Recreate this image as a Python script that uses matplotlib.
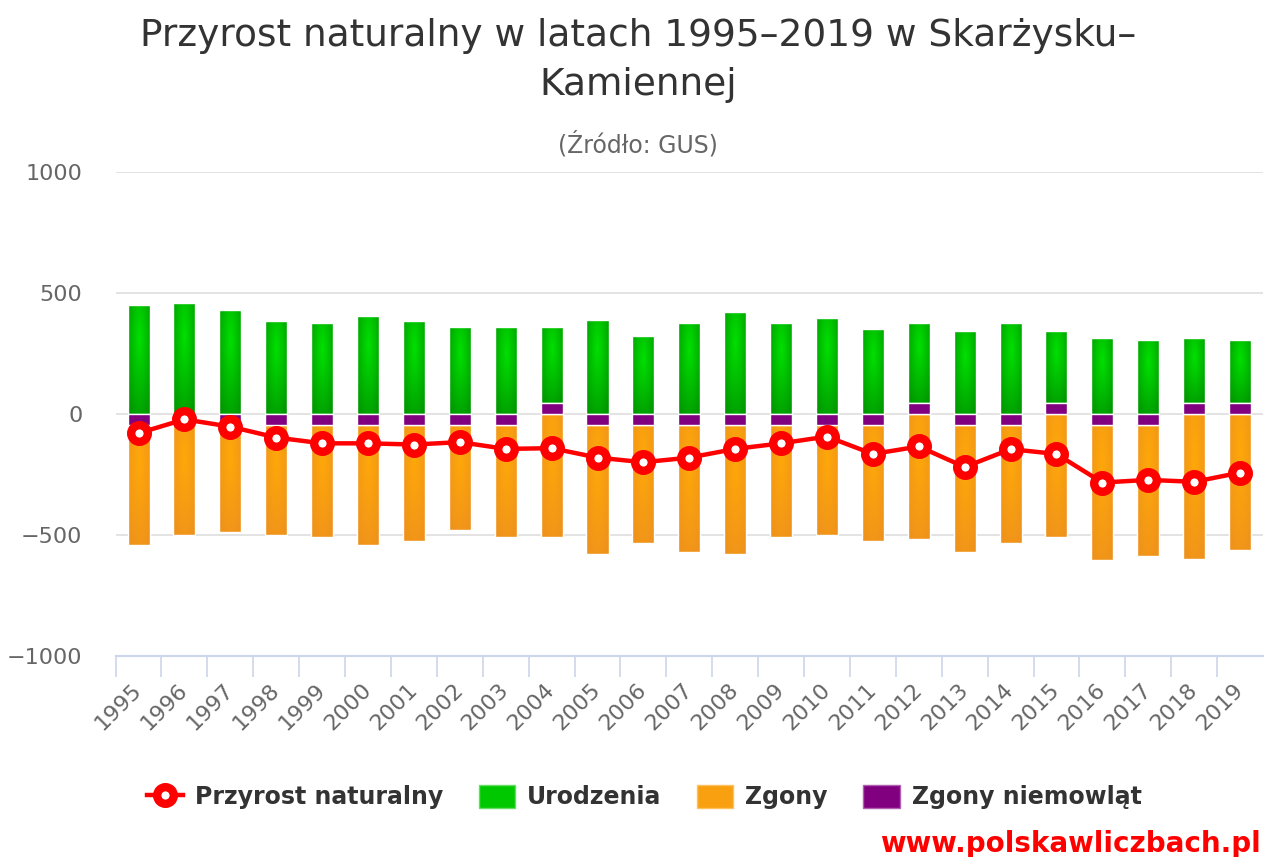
import numpy as np
import matplotlib
matplotlib.use('Agg')
import matplotlib.pyplot as plt
import matplotlib.colors as mcolors
from matplotlib.lines import Line2D
from matplotlib.patches import Patch

# Dane
years = [str(y) for y in range(1995, 2020)]
urodzenia = [450, 460, 433, 387, 379, 406, 387, 361, 361, 316, 389, 325, 379,
             424, 379, 397, 351, 334, 343, 379, 298, 316, 307, 271, 262]
zgony = [-496, -452, -443, -452, -461, -496, -478, -433, -461, -506, -532,
         -487, -524, -532, -461, -452, -478, -515, -524, -488, -506, -559,
         -542, -596, -559]
zgony_niem = [-45, -45, -45, -45, -45, -45, -45, -45, -45, 45, -45, -45, -45,
              -45, -45, -45, -45, 45, -45, -45, 45, -45, -45, 45, 45]
przyrost = [-78, -21, -51, -96, -120, -120, -125, -115, -143, -140, -179,
            -198, -179, -143, -120, -92, -164, -133, -218, -144, -164, -282,
            -271, -279, -241]
y_ticks = [-1000, -500, 0, 500, 1000]


# Radial gradient fill clipped to each bar
def gradient_fill(ax, patches, light, dark):
    light = np.array(mcolors.to_rgb(light))
    dark = np.array(mcolors.to_rgb(dark))
    uu, vv = np.meshgrid(np.linspace(0, 1, 24), np.linspace(0, 1, 80))
    r = np.sqrt(((uu - 0.5) / 0.7) ** 2 + ((vv - 0.3) / 0.85) ** 2)
    t = np.clip(r, 0, 1)[..., None]
    img = light * (1 - t) + dark * t
    for p in patches:
        x0 = p.get_x()
        x1 = x0 + p.get_width()
        y0 = p.get_y()
        y1 = y0 + p.get_height()
        im = ax.imshow(img, extent=(x0, x1, min(y0, y1), max(y0, y1)),
                       origin='upper', aspect='auto', zorder=2.9,
                       interpolation='bilinear')
        im.set_clip_path(p)


fig = plt.figure(figsize=(12.64, 8.57), dpi=100)
ax = fig.add_axes([115.6 / 1264, 1 - 656.3 / 857, 1147.4 / 1264, 484 / 857])

x = np.arange(len(years))
niem = np.array(zgony_niem)
bottom_pos = np.where(niem > 0, niem, 0)
bottom_neg = np.where(niem < 0, niem, 0)
width = 0.48

bars_u = ax.bar(x, urodzenia, width, bottom=bottom_pos, facecolor='none',
                edgecolor='white', linewidth=1, zorder=3)
bars_z = ax.bar(x, zgony, width, bottom=bottom_neg, facecolor='none',
                edgecolor='white', linewidth=1, zorder=3)
ax.bar(x, zgony_niem, width, color='#800080', edgecolor='white',
       linewidth=1, zorder=3)
gradient_fill(ax, bars_u, '#00e000', '#009600')
gradient_fill(ax, bars_z, '#ffa808', '#ee921c')

ax.plot(x, przyrost, color='#ff0000', linewidth=3.2, marker='o',
        markersize=12, markeredgewidth=6, markerfacecolor='white',
        markeredgecolor='#ff0000', zorder=5)

ax.set_xlim(-0.5, len(years) - 0.5)
ax.set_ylim(-1000, 1000)

for s in ['top', 'right', 'left']:
    ax.spines[s].set_visible(False)
ax.spines['bottom'].set_color('#ccd6eb')
ax.spines['bottom'].set_linewidth(1.5)

ax.set_yticks(y_ticks)
ax.set_yticklabels([str(v).replace('-', '\u2212') for v in y_ticks])
ax.tick_params(axis='y', length=0, pad=24, labelsize=16, labelcolor='#666666')
ax.yaxis.grid(True, color='#e3e3e3', linewidth=1.4)
ax.set_axisbelow(True)

ax.set_xticks(x)
ax.set_xticklabels(years, rotation=45, ha='right', va='center',
                   rotation_mode='anchor')
ax.tick_params(axis='x', which='major', length=0, pad=22, labelsize=16,
               labelcolor='#666666')
ax.set_xticks(np.arange(len(years)) - 0.5, minor=True)
ax.tick_params(axis='x', which='minor', length=15, width=1.2,
               color='#ccd6eb')

fig.text(0.505, 1 - 46 / 857, 'Przyrost naturalny w latach 1995\u20132019 w Skarżysku\u2013',
         ha='center', va='baseline', fontsize=27, color='#333333')
fig.text(0.505, 1 - 95 / 857, 'Kamiennej', ha='center', va='baseline',
         fontsize=27, color='#333333')
fig.text(0.505, 1 - 153 / 857, '(Źródło: GUS)', ha='center', va='baseline',
         fontsize=17, color='#666666')

handles = [
    Line2D([0], [0], color='#ff0000', linewidth=3.2, marker='o', markersize=12,
           markeredgewidth=6, markerfacecolor='white',
           markeredgecolor='#ff0000'),
    Patch(facecolor='#00c800', edgecolor='#66dd66'),
    Patch(facecolor='#f8a010', edgecolor='#ffc060'),
    Patch(facecolor='#800080', edgecolor='#b060b0'),
]
labels = ['Przyrost naturalny', 'Urodzenia', 'Zgony', 'Zgony niemowląt']
fig.legend(handles, labels, loc='center', bbox_to_anchor=(644 / 1264, 1 - 797 / 857),
           ncol=4, frameon=False, handlelength=1.55, handleheight=1.15,
           handletextpad=0.5, columnspacing=1.5,
           prop={'size': 17, 'weight': 'bold'}, labelcolor='#333333')

fig.text(1261 / 1264, 1 - 852 / 857, 'www.polskawliczbach.pl', ha='right',
         va='baseline', fontsize=20, fontweight='bold', color='#ff0000')

fig.savefig('out.png', dpi=100)
